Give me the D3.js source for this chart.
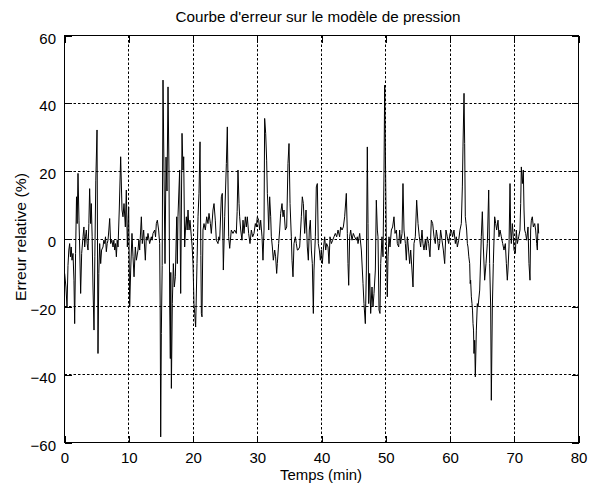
<!DOCTYPE html>
<html>
<head>
<meta charset="utf-8">
<script src="https://cdn.jsdelivr.net/npm/d3@7"></script>
<style>
  body { margin: 0; background: #ffffff; }
  svg { display: block; }
  text { font-family: "Liberation Sans", Arial, Helvetica, sans-serif; fill: #000; }
</style>
</head>
<body>
<svg id="chart" width="598" height="490"></svg>
<script>
// ---------- data ----------
const chartTitle = "Courbe d'erreur sur le modèle de pression";
const xLabel = "Temps (min)";
const yLabel = "Erreur relative (%)";
const xTicks = [0, 10, 20, 30, 40, 50, 60, 70, 80];
const yTicks = [-60, -40, -20, 0, 20, 40, 60];

const times = [
  0.10,0.30,0.47,0.62,0.75,0.88,1.00,1.12,1.25,1.40,1.55,1.66,1.80,1.95,2.05,2.18,2.33,2.45,2.59,2.75,
  2.96,3.10,3.22,3.35,3.48,3.60,3.74,3.87,3.99,4.15,4.25,4.38,4.51,4.67,4.80,4.95,5.14,5.29,5.42,5.55,
  5.71,5.85,6.07,6.20,6.33,6.46,6.59,6.72,6.85,6.98,7.11,7.26,7.45,7.63,7.76,7.89,8.02,8.15,8.28,
  8.41,8.60,8.82,9.03,9.18,9.34,9.55,9.70,9.86,10.07,10.22,10.38,10.58,10.74,10.90,11.10,11.26,11.52,11.65,11.78,
  12.04,12.19,12.40,12.66,12.81,12.95,13.07,13.33,13.59,13.72,13.85,14.11,14.25,14.37,14.53,14.73,14.89,14.97,15.05,15.15,
  15.28,15.41,15.56,15.72,15.88,16.03,16.19,16.34,16.45,16.55,16.62,16.71,16.86,17.02,17.17,17.33,17.54,17.64,
  17.74,18.00,18.16,18.37,18.52,18.63,18.78,18.90,19.04,19.17,19.30,19.46,19.61,19.82,19.95,20.08,20.23,20.34,20.49,20.70,
  20.86,21.01,21.17,21.30,21.38,21.48,21.63,21.79,22.00,22.21,22.41,22.57,22.78,22.93,23.19,23.35,23.55,23.71,23.97,24.10,
  24.23,24.49,24.64,24.80,25.01,25.27,25.42,25.63,25.79,26.04,26.30,26.56,26.82,26.95,
  27.08,27.24,27.34,27.50,27.70,27.86,28.02,28.22,28.38,28.53,28.74,28.95,29.16,29.37,29.57,29.78,29.94,30.09,30.30,30.45,
  30.61,30.82,30.97,31.13,31.23,31.39,31.54,31.65,31.75,31.86,32.01,32.17,32.27,32.43,32.58,32.79,32.94,33.10,33.20,33.41,
  33.57,33.72,33.93,34.09,34.24,34.45,34.66,34.86,35.02,35.18,35.38,35.49,35.64,35.80,36.01,36.16,36.32,
  36.42,36.68,36.94,37.09,37.25,37.46,37.67,37.87,38.03,38.18,38.34,38.50,38.65,38.81,38.91,39.12,39.27,39.43,39.58,39.74,
  39.90,40.05,40.21,40.36,40.57,40.73,40.88,41.09,41.25,41.40,41.61,41.82,42.02,42.23,42.44,42.65,42.90,43.06,43.27,43.48,
  43.68,43.94,44.10,44.20,44.31,44.46,44.62,44.82,45.03,45.24,45.50,45.65,
  45.76,46.02,46.28,46.54,46.69,46.90,47.06,47.21,47.32,47.42,47.57,47.73,47.94,48.09,48.25,48.46,48.61,48.77,48.87,49.03,
  49.18,49.29,49.49,49.65,49.81,49.91,50.07,50.17,50.32,50.43,50.58,50.74,50.95,51.15,51.36,51.52,51.73,51.88,52.09,52.24,
  52.40,52.61,52.76,52.92,53.13,53.28,53.44,53.59,53.80,53.96,54.16,54.32,54.47,54.68,54.89,
  55.10,55.30,55.51,55.72,55.87,56.03,56.24,56.39,56.55,56.76,56.96,57.17,57.38,57.59,57.79,57.95,58.11,58.31,58.47,58.62,
  58.83,59.04,59.25,59.45,59.66,59.87,60.08,60.29,60.49,60.70,60.91,61.06,61.22,61.43,61.63,61.84,62.00,62.10,62.26,62.36,
  62.46,62.57,62.67,62.78,62.88,63.01,63.14,63.22,63.29,63.40,63.50,63.58,63.66,63.74,63.81,63.92,64.02,64.18,64.33,
  64.44,64.70,64.95,65.11,65.27,65.47,65.68,65.89,66.10,66.25,66.41,66.51,66.67,66.82,67.03,67.19,67.34,67.55,67.70,67.86,
  68.07,68.28,68.48,68.69,68.85,69.00,69.10,69.26,69.42,69.52,69.62,69.78,69.93,70.04,70.25,70.40,70.56,70.77,70.97,71.08,
  71.18,71.34,71.49,71.60,71.70,71.85,72.01,72.22,72.37,72.53,72.63,72.74,72.89,73.05,73.26,73.41,73.57,73.67,73.78,73.88
];

const errors = [
  -10.3,-14.3,-20.2,-8.0,-3.4,-1.5,-5.4,-2.5,-6.4,-4.4,-12.3,-25.1,-4.4,12.3,4.4,19.2,5.4,-3.4,-16.2,-4.4,
  0.5,3.4,-2.5,0.5,2.5,-1.5,-3.4,4.4,14.7,4.4,10.3,0.5,-14.3,-27.0,-5.4,17.2,32.0,-33.9,-10.3,-1.5,
  -7.4,-3.4,-2.5,-0.5,-1.5,0.5,-3.9,-1.5,-0.5,2.5,5.9,-1.5,-0.5,-2.5,-0.5,-3.4,-1.5,-5.4,-0.5,
  -2.5,8.4,24.1,8.4,6.4,10.3,3.4,14.3,-2.5,9.3,-20.2,-9.3,1.5,-5.4,-11.3,-2.5,-6.4,-3.4,-0.5,-3.4,
  6.4,-1.5,2.5,-6.4,0.5,-0.5,1.5,-1.5,0.5,-0.5,1.5,2.5,0.5,4.4,5.4,2.5,-1.5,-20.0,-58.5,-28.0,
  -8.0,46.7,20.2,-7.4,24.0,14.0,44.7,20.2,-20.2,-35.4,-10.0,-44.2,-19.2,-7.4,-14.3,-11.3,6.4,-7.4,
  6.4,20.2,-16.2,31.0,20.2,24.1,-2.5,2.5,6.4,2.5,8.4,2.5,5.4,0.5,-2.5,-7.4,-19.2,-22.1,-26.1,-7.4,
  6.4,13.3,28.5,-5.0,-22.1,-23.1,2.5,4.4,2.5,6.4,4.4,7.4,4.4,1.5,8.4,10.3,5.4,-0.5,-1.5,0.5,
  -0.5,12.3,13.3,-9.3,6.4,22.1,32.9,0.5,-2.9,2.5,1.5,2.5,1.5,8.0,
  20.2,10.3,6.4,2.5,-0.5,5.4,1.5,6.4,3.4,6.4,1.5,-1.5,2.5,0.5,1.5,4.4,3.4,6.4,5.4,2.5,
  5.4,0.5,-6.4,2.5,35.4,31.0,23.1,13.3,9.3,2.5,12.3,6.4,0.5,-2.5,-6.4,-3.4,-5.4,-10.3,-7.4,-1.5,
  2.5,7.4,10.3,6.4,8.4,2.5,3.4,22.1,28.0,10.3,0.5,-6.4,-11.3,-1.5,0.5,-1.5,-3.4,
  -3.4,-2.5,6.4,12.3,10.3,1.5,8.4,-2.5,-6.4,2.5,5.4,-3.4,-7.4,-22.1,-9.3,0.5,15.2,16.2,-1.5,-3.4,
  -6.4,-3.4,-7.4,-3.4,0.5,-3.4,-1.5,-2.5,-7.4,0.5,-1.5,-0.5,0.5,1.5,0.5,2.5,0.5,3.4,2.5,3.4,
  6.4,13.3,1.5,-7.4,-13.8,0.5,2.5,-0.5,1.5,0.5,-0.5,0.5,
  -1.5,1.5,-3.4,-13.3,-19.2,-25.1,-9.3,27.0,4.4,-19.2,-10.3,-22.1,-14.3,-20.2,-16.2,-9.3,11.3,2.5,0.5,-21.1,
  -22.1,-7.4,0.5,-5.4,20.2,45.2,17.2,-1.5,-17.2,-5.4,0.5,-2.5,2.5,3.4,6.4,1.5,2.5,-1.5,-2.5,2.5,
  -1.5,1.5,16.2,2.5,-1.5,-6.4,0.5,-2.5,-7.4,-3.4,-9.3,-14.3,-1.5,0.5,11.3,
  4.4,0.5,-2.5,2.5,-1.5,-3.4,-0.5,-3.4,0.5,-1.5,-5.4,5.4,4.4,0.5,-1.5,2.5,0.5,-3.4,-1.5,2.5,
  -0.5,-3.4,-7.4,2.5,0.5,-1.5,1.5,2.5,0.5,2.5,-1.5,0.5,-2.5,-0.5,2.5,4.4,15.2,27.0,42.8,28.0,
  6.4,4.4,2.5,-1.5,-2.5,-5.4,-7.4,-13.3,-12.3,-17.2,-19.2,-21.1,-25.1,-27.0,-33.9,-30.0,-40.8,-27.0,-19.2,
  -20.2,-15.2,0.5,7.9,-2.5,-12.3,-7.4,-1.5,14.3,-7.4,-20.2,-47.7,-20.2,-7.4,6.4,4.4,2.5,5.4,0.5,2.5,
  0.5,-1.5,-3.4,-1.5,-7.4,-12.3,-9.3,-2.5,16.2,2.5,-1.5,4.4,0.5,-3.4,-4.4,2.5,-1.5,0.5,2.5,10.3,
  21.1,16.2,20.2,8.4,2.5,1.5,-0.5,3.4,-7.4,-12.3,2.5,5.4,6.4,3.4,4.4,2.5,-1.5,-3.4,4.4,1.5
];

// ---------- layout ----------
const svg = d3.select("#chart");
const L = 64, R = 578, T = 35, B = 442;
const x = d3.scaleLinear().domain([0, 80]).range([L, R]);
const y = d3.scaleLinear().domain([-60, 60]).range([B, T]);
const px = v => Math.round(x(v)) + 0.5;
const py = v => Math.round(y(v)) + 0.5;

svg.append("rect").attr("width", 598).attr("height", 490).attr("fill", "#fff");

// grid (dotted)
const grid = svg.append("g").attr("stroke", "#000").attr("stroke-width", 1)
  .attr("stroke-dasharray", "2.5,2");
grid.selectAll("line.vx").data(xTicks.slice(1, -1)).enter().append("line")
  .attr("x1", d => px(d)).attr("x2", d => px(d))
  .attr("y1", py(60)).attr("y2", py(-60));
grid.selectAll("line.hy").data(yTicks.slice(1, -1)).enter().append("line")
  .attr("y1", d => py(d)).attr("y2", d => py(d))
  .attr("x1", px(0)).attr("x2", px(80));

// data line
const pts = times.map((t, i) => [t, errors[i]]);
svg.append("path").datum(pts)
  .attr("fill", "none").attr("stroke", "#000").attr("stroke-width", 1)
  .attr("stroke-linejoin", "miter")
  .attr("d", d3.line().x(d => x(d[0])).y(d => y(d[1])));

// axes with inward ticks on all four sides
const tk = 7;
const fs = "15px";
const xScaleC = d3.scaleLinear().domain([0, 80]).range([px(0), px(80)]);
const yScaleC = d3.scaleLinear().domain([-60, 60]).range([py(-60), py(60)]);

const gB = svg.append("g").attr("transform", `translate(0,${py(-60)})`)
  .call(d3.axisBottom(xScaleC).tickValues(xTicks).tickSizeInner(-tk).tickSizeOuter(0).tickPadding(10));
const gT = svg.append("g").attr("transform", `translate(0,${py(60)})`)
  .call(d3.axisTop(xScaleC).tickValues(xTicks).tickSizeInner(-tk).tickSizeOuter(0).tickFormat(""));
const gL = svg.append("g").attr("transform", `translate(${px(0)},0)`)
  .call(d3.axisLeft(yScaleC).tickValues(yTicks).tickSizeInner(-tk).tickSizeOuter(0).tickPadding(8.5));
const gR = svg.append("g").attr("transform", `translate(${px(80)},0)`)
  .call(d3.axisRight(yScaleC).tickValues(yTicks).tickSizeInner(-tk).tickSizeOuter(0).tickFormat(""));

[gB, gT, gL, gR].forEach(g => {
  g.select(".domain").remove();
  g.selectAll("line").attr("stroke", "#000").attr("shape-rendering", "crispEdges");
  g.selectAll("text").attr("font-size", fs).attr("fill", "#000")
    .attr("font-family", '"Liberation Sans", Arial, Helvetica, sans-serif');
});
gL.selectAll("text").attr("dy", "0.5em");

// frame
svg.append("rect")
  .attr("x", px(0)).attr("y", py(60))
  .attr("width", px(80) - px(0)).attr("height", py(-60) - py(60))
  .attr("fill", "none").attr("stroke", "#000").attr("shape-rendering", "crispEdges");

// labels
svg.append("text").attr("x", 318).attr("y", 22).attr("text-anchor", "middle")
  .attr("font-size", fs).attr("textLength", 285).attr("lengthAdjust", "spacingAndGlyphs")
  .text(chartTitle);
svg.append("text").attr("x", 321).attr("y", 480).attr("text-anchor", "middle")
  .attr("font-size", fs).attr("textLength", 82).attr("lengthAdjust", "spacingAndGlyphs")
  .text(xLabel);
svg.append("text").attr("transform", "translate(26,237) rotate(-90)")
  .attr("text-anchor", "middle").attr("font-size", fs)
  .attr("textLength", 128).attr("lengthAdjust", "spacingAndGlyphs")
  .text(yLabel);
</script>
</body>
</html>
